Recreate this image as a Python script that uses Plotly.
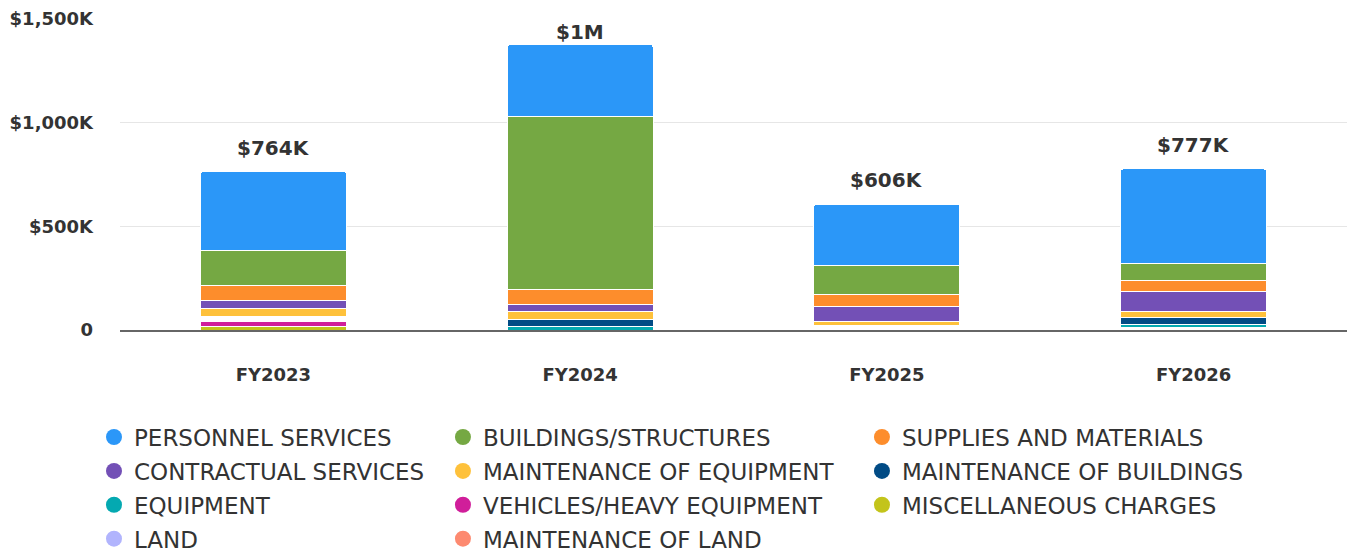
import plotly.graph_objects as go

# Fiscal years and spending by category (thousands of dollars)
years = ["FY2023", "FY2024", "FY2025", "FY2026"]

personnel_services = [380, 347, 293, 454]
buildings_structures = [171, 835, 144, 82]
supplies_materials = [70, 72, 56, 55]
contractual_services = [39, 35, 72, 96]
maintenance_equipment = [41, 37, 18, 29]
maintenance_buildings = [0, 35, 0, 35]
equipment = [0, 16, 0, 16]
other = [22, 0, 23, 10]
vehicles_heavy = [26, 0, 0, 0]
misc_charges = [15, 0, 0, 0]
land = [0, 0, 0, 0]
maintenance_land = [0, 0, 0, 0]

y_tick_vals = [0, 500, 1000, 1500]
y_tick_text = ["0", "$500K", "$1,000K", "$1,500K"]

FONT = "DejaVu Sans"
TEXT = "#333333"
Y_MAX = 1500

# (label, values, colour, legend column) in legend reading order
series = [
    ("PERSONNEL SERVICES", personnel_services, "#2B97F8", "legend"),
    ("BUILDINGS/STRUCTURES", buildings_structures, "#75A843", "legend2"),
    ("SUPPLIES AND MATERIALS", supplies_materials, "#FD8D2C", "legend3"),
    ("CONTRACTUAL SERVICES", contractual_services, "#7350B6", "legend"),
    ("MAINTENANCE OF EQUIPMENT", maintenance_equipment, "#FEC13B", "legend2"),
    ("MAINTENANCE OF BUILDINGS", maintenance_buildings, "#014B85", "legend3"),
    ("EQUIPMENT", equipment, "#04A9B1", "legend"),
    ("VEHICLES/HEAVY EQUIPMENT", vehicles_heavy, "#D01E9A", "legend2"),
    ("MISCELLANEOUS CHARGES", misc_charges, "#C3C41B", "legend3"),
    ("LAND", land, "#B1B4FD", "legend"),
    ("MAINTENANCE OF LAND", maintenance_land, "#FD8A70", "legend2"),
]
by_name = {s[0]: s for s in series}

# bottom-to-top stacking order
stack_order = [
    "MAINTENANCE OF LAND", "LAND", "MISCELLANEOUS CHARGES",
    "VEHICLES/HEAVY EQUIPMENT", "OTHER", "EQUIPMENT",
    "MAINTENANCE OF BUILDINGS", "MAINTENANCE OF EQUIPMENT",
    "CONTRACTUAL SERVICES", "SUPPLIES AND MATERIALS",
    "BUILDINGS/STRUCTURES", "PERSONNEL SERVICES",
]

fig = go.Figure()

for name in stack_order:
    if name == "OTHER":
        vals, color = other, "#FFFFFF"
    else:
        _, vals, color, _ = by_name[name]
    fig.add_trace(go.Bar(
        x=years, y=vals, name=name, legendgroup=name, showlegend=False,
        marker=dict(color=color, line=dict(color="#FFFFFF", width=1)),
        width=0.476,
    ))

# circular legend entries, one legend per column
for name, vals, color, leg in series:
    fig.add_trace(go.Scatter(
        x=[None], y=[None], mode="markers", name=name, legendgroup=name,
        legend=leg, marker=dict(size=20, color=color, symbol="circle"),
    ))

totals = [sum(v) for v in zip(personnel_services, buildings_structures, supplies_materials,
                              contractual_services, maintenance_equipment,
                              maintenance_buildings, equipment, other, vehicles_heavy,
                              misc_charges, land, maintenance_land)]


def fmt_total(t):
    if t >= 1000:
        return f"${t / 1000:.0f}M"
    return f"${t:.0f}K"


# total labels sit above each stack, kept inside the plotting area
LABEL_GAP = 116      # data units between stack top and label centre
LABEL_CEILING = 1437  # highest label centre that still fits under the top
for yr, t in zip(years, totals):
    fig.add_annotation(
        x=yr, y=min(t + LABEL_GAP, LABEL_CEILING), text=fmt_total(t),
        showarrow=False, yanchor="middle",
        font=dict(family=FONT, size=20, color=TEXT, weight="bold"),
    )

legend_common = dict(
    orientation="v", xanchor="left", yanchor="top", y=-0.275,
    font=dict(family=FONT, size=23, color=TEXT),
    tracegroupgap=1, bgcolor="rgba(0,0,0,0)", borderwidth=0,
)

fig.update_layout(
    width=1347, height=553,
    margin=dict(l=120, r=0, t=19, b=223, autoexpand=False),
    paper_bgcolor="#FFFFFF", plot_bgcolor="#FFFFFF",
    barmode="stack", barcornerradius=3,
    font=dict(family=FONT, color=TEXT),
    legend=dict(x=-0.0212, **legend_common),
    legend2=dict(x=0.2632, **legend_common),
    legend3=dict(x=0.6047, **legend_common),
    xaxis=dict(
        range=[-0.5, 3.5], showgrid=False, ticks="",
        showline=True, linecolor="#666666", linewidth=2,
        tickfont=dict(family=FONT, size=18, color=TEXT, weight="bold"),
        ticklabelstandoff=27,
    ),
    yaxis=dict(
        range=[0, Y_MAX], tickvals=y_tick_vals, ticktext=y_tick_text,
        showgrid=True, gridcolor="#E6E6E6", gridwidth=1,
        zeroline=False, ticks="",
        tickfont=dict(family=FONT, size=18, color=TEXT, weight="bold"),
        ticklabelstandoff=26,
    ),
)

fig.write_html("out.html")
